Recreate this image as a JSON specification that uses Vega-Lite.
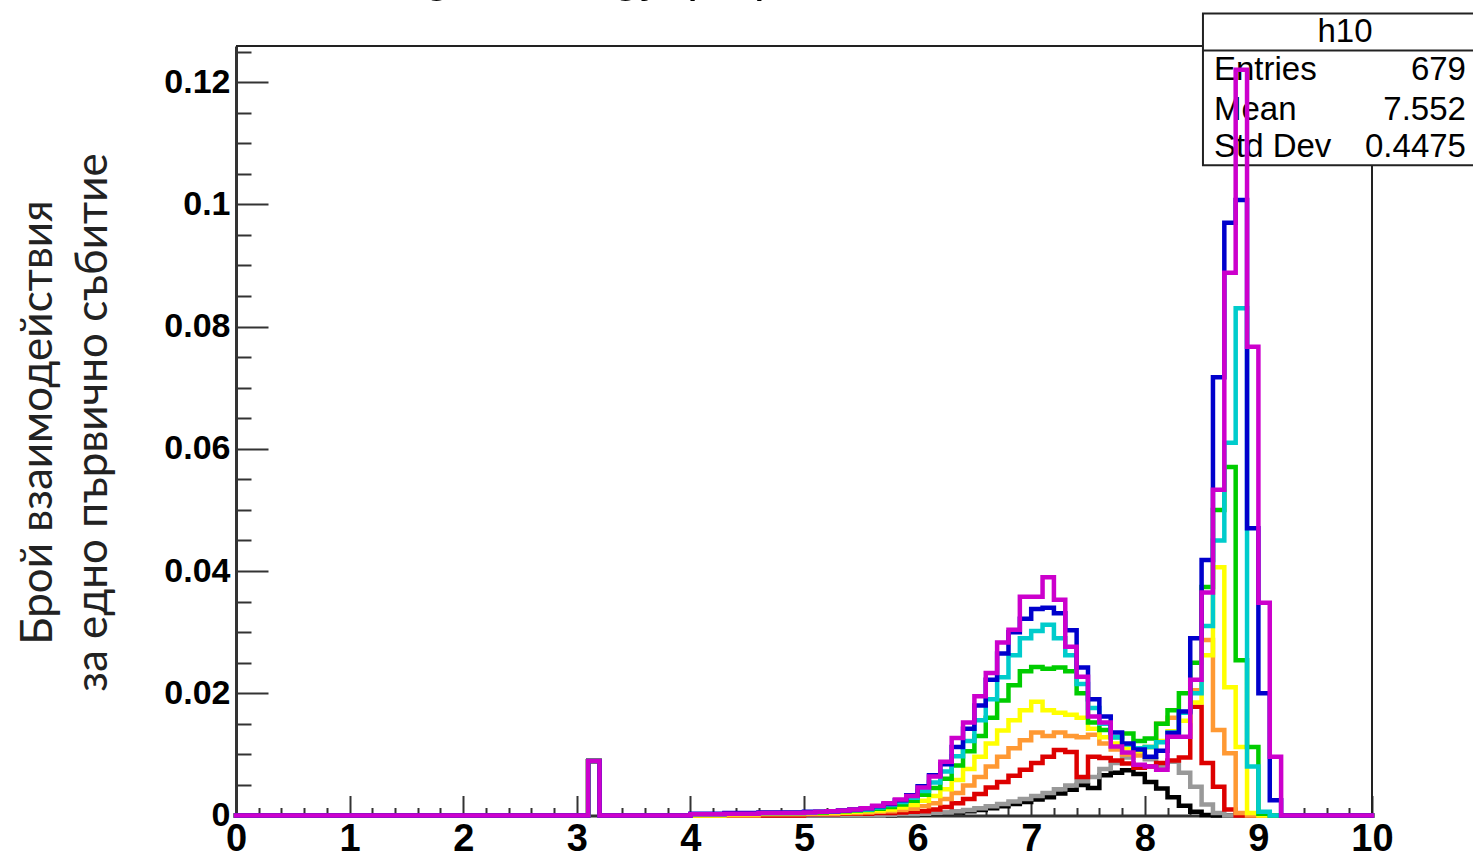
{
  "$schema": "https://vega.github.io/schema/vega-lite/v6.json",
  "width": 1136,
  "height": 769.5,
  "autosize": {"type": "none"},
  "padding": {"left": 236, "top": 46, "right": 101, "bottom": 39.5},
  "background": "white",
  "config": {
    "view": {"stroke": null},
    "axis": {
      "grid": false,
      "domainColor": "#333",
      "domainWidth": 3,
      "tickColor": "#333",
      "tickWidth": 2,
      "labelColor": "#000",
      "labelFont": "Liberation Sans",
      "labelFontWeight": "bold",
      "labelOverlap": false,
      "labelFlush": false,
      "labelBound": false
    },
    "text": {"font": "Liberation Sans", "fontSize": 33, "color": "#000"}
  },
  "datasets": {
    "stats": [{"title": "Light Energy (eV)", "hist": "h10", "entries": 679, "mean": 7.552, "stdDev": 0.4475}],
    "hist": [
      {"x": 0, "h2": 0, "h3": 0, "h4": 0, "h5": 0, "h6": 0, "h7": 0, "h8": 0, "h9": 0, "h10": 0},
      {"x": 3.1, "h2": 0.0089, "h3": 0.0089, "h4": 0.0089, "h5": 0.0089, "h6": 0.0089, "h7": 0.0089, "h8": 0.0089, "h9": 0.0089, "h10": 0.0089},
      {"x": 3.2, "h2": 0, "h3": 0, "h4": 0, "h5": 0, "h6": 0, "h7": 0, "h8": 0, "h9": 0, "h10": 0},
      {"x": 4.0, "h2": 0, "h3": 0, "h4": 0, "h5": 0, "h6": 0, "h7": 0.0002, "h8": 0.0002, "h9": 0.0003, "h10": 0.0002},
      {"x": 4.3, "h2": 0, "h3": 0, "h4": 0, "h5": 0, "h6": 0.0002, "h7": 0.0003, "h8": 0.0003, "h9": 0.0004, "h10": 0.0003},
      {"x": 4.6, "h2": 0, "h3": 0, "h4": 0, "h5": 0.0002, "h6": 0.0003, "h7": 0.0004, "h8": 0.0004, "h9": 0.0005, "h10": 0.0004},
      {"x": 5.0, "h2": 0, "h3": 0, "h4": 0.0002, "h5": 0.0003, "h6": 0.0004, "h7": 0.0005, "h8": 0.0005, "h9": 0.0006, "h10": 0.0005},
      {"x": 5.1, "h2": 0, "h3": 0, "h4": 0.0002, "h5": 0.0003, "h6": 0.0004, "h7": 0.0005, "h8": 0.0006, "h9": 0.0006, "h10": 0.0006},
      {"x": 5.2, "h2": 0, "h3": 0, "h4": 0.0002, "h5": 0.0003, "h6": 0.0005, "h7": 0.0006, "h8": 0.0006, "h9": 0.0007, "h10": 0.0007},
      {"x": 5.3, "h2": 0, "h3": 0, "h4": 0.0003, "h5": 0.0004, "h6": 0.0005, "h7": 0.0007, "h8": 0.0008, "h9": 0.0008, "h10": 0.0008},
      {"x": 5.4, "h2": 0, "h3": 0, "h4": 0.0003, "h5": 0.0004, "h6": 0.0006, "h7": 0.0008, "h8": 0.0009, "h9": 0.001, "h10": 0.001},
      {"x": 5.5, "h2": 0, "h3": 0, "h4": 0.0003, "h5": 0.0005, "h6": 0.0007, "h7": 0.0009, "h8": 0.001, "h9": 0.0012, "h10": 0.0012},
      {"x": 5.6, "h2": 0, "h3": 0, "h4": 0.0004, "h5": 0.0006, "h6": 0.0008, "h7": 0.0011, "h8": 0.0013, "h9": 0.0015, "h10": 0.0016},
      {"x": 5.7, "h2": 0, "h3": 0.0001, "h4": 0.0004, "h5": 0.0007, "h6": 0.001, "h7": 0.0014, "h8": 0.0017, "h9": 0.0019, "h10": 0.002},
      {"x": 5.8, "h2": 0.0001, "h3": 0.0002, "h4": 0.0005, "h5": 0.0009, "h6": 0.0013, "h7": 0.0018, "h8": 0.0022, "h9": 0.0025, "h10": 0.0026},
      {"x": 5.9, "h2": 0.0001, "h3": 0.0002, "h4": 0.0006, "h5": 0.0011, "h6": 0.0017, "h7": 0.0024, "h8": 0.0029, "h9": 0.0033, "h10": 0.0032},
      {"x": 6.0, "h2": 0.0002, "h3": 0.0003, "h4": 0.0007, "h5": 0.0015, "h6": 0.0024, "h7": 0.0034, "h8": 0.004, "h9": 0.0048, "h10": 0.0046},
      {"x": 6.1, "h2": 0.0003, "h3": 0.0004, "h4": 0.001, "h5": 0.002, "h6": 0.0032, "h7": 0.0045, "h8": 0.0054, "h9": 0.0066, "h10": 0.0064},
      {"x": 6.2, "h2": 0.0004, "h3": 0.0005, "h4": 0.0014, "h5": 0.0027, "h6": 0.0043, "h7": 0.006, "h8": 0.0072, "h9": 0.0084, "h10": 0.0088},
      {"x": 6.3, "h2": 0.0005, "h3": 0.0007, "h4": 0.002, "h5": 0.0037, "h6": 0.0058, "h7": 0.0082, "h8": 0.0097, "h9": 0.0112, "h10": 0.0127},
      {"x": 6.4, "h2": 0.0007, "h3": 0.0009, "h4": 0.0027, "h5": 0.0049, "h6": 0.0076, "h7": 0.0105, "h8": 0.0122, "h9": 0.0142, "h10": 0.0152},
      {"x": 6.5, "h2": 0.0009, "h3": 0.0012, "h4": 0.0035, "h5": 0.0063, "h6": 0.0096, "h7": 0.013, "h8": 0.0156, "h9": 0.018, "h10": 0.0195},
      {"x": 6.6, "h2": 0.0012, "h3": 0.0015, "h4": 0.0046, "h5": 0.008, "h6": 0.0118, "h7": 0.016, "h8": 0.019, "h9": 0.0222, "h10": 0.0233},
      {"x": 6.7, "h2": 0.0015, "h3": 0.0019, "h4": 0.0055, "h5": 0.0096, "h6": 0.0139, "h7": 0.0188, "h8": 0.0226, "h9": 0.0265, "h10": 0.0283},
      {"x": 6.8, "h2": 0.0019, "h3": 0.0023, "h4": 0.0065, "h5": 0.011, "h6": 0.0156, "h7": 0.0213, "h8": 0.0262, "h9": 0.03, "h10": 0.0304},
      {"x": 6.9, "h2": 0.0022, "h3": 0.0027, "h4": 0.0075, "h5": 0.0123, "h6": 0.0172, "h7": 0.0236, "h8": 0.029, "h9": 0.0322, "h10": 0.0358},
      {"x": 7.0, "h2": 0.0026, "h3": 0.0032, "h4": 0.0086, "h5": 0.0136, "h6": 0.0186, "h7": 0.0243, "h8": 0.0302, "h9": 0.0338, "h10": 0.0358},
      {"x": 7.1, "h2": 0.003, "h3": 0.0037, "h4": 0.0096, "h5": 0.013, "h6": 0.0172, "h7": 0.024, "h8": 0.0312, "h9": 0.034, "h10": 0.039},
      {"x": 7.2, "h2": 0.0036, "h3": 0.0043, "h4": 0.0107, "h5": 0.0136, "h6": 0.0168, "h7": 0.0242, "h8": 0.029, "h9": 0.0331, "h10": 0.0353},
      {"x": 7.3, "h2": 0.0042, "h3": 0.0049, "h4": 0.0104, "h5": 0.013, "h6": 0.0165, "h7": 0.0236, "h8": 0.0262, "h9": 0.0303, "h10": 0.0276},
      {"x": 7.4, "h2": 0.005, "h3": 0.0056, "h4": 0.0063, "h5": 0.0128, "h6": 0.016, "h7": 0.02, "h8": 0.0215, "h9": 0.0242, "h10": 0.0227},
      {"x": 7.5, "h2": 0.0045, "h3": 0.0063, "h4": 0.0096, "h5": 0.0132, "h6": 0.0142, "h7": 0.0152, "h8": 0.0176, "h9": 0.019, "h10": 0.0162},
      {"x": 7.6, "h2": 0.0066, "h3": 0.0076, "h4": 0.0094, "h5": 0.0118, "h6": 0.0128, "h7": 0.014, "h8": 0.015, "h9": 0.0162, "h10": 0.0152},
      {"x": 7.7, "h2": 0.007, "h3": 0.0086, "h4": 0.009, "h5": 0.0108, "h6": 0.0118, "h7": 0.0128, "h8": 0.0128, "h9": 0.0136, "h10": 0.0113},
      {"x": 7.8, "h2": 0.0074, "h3": 0.0095, "h4": 0.0085, "h5": 0.01, "h6": 0.011, "h7": 0.0134, "h8": 0.0116, "h9": 0.0118, "h10": 0.0103},
      {"x": 7.9, "h2": 0.0068, "h3": 0.01, "h4": 0.0078, "h5": 0.0098, "h6": 0.0105, "h7": 0.0122, "h8": 0.011, "h9": 0.0108, "h10": 0.0083},
      {"x": 8.0, "h2": 0.0055, "h3": 0.0092, "h4": 0.008, "h5": 0.0112, "h6": 0.0112, "h7": 0.0126, "h8": 0.0112, "h9": 0.0096, "h10": 0.008},
      {"x": 8.1, "h2": 0.0044, "h3": 0.008, "h4": 0.0086, "h5": 0.015, "h6": 0.0122, "h7": 0.015, "h8": 0.012, "h9": 0.0106, "h10": 0.0075},
      {"x": 8.2, "h2": 0.003, "h3": 0.0088, "h4": 0.009, "h5": 0.016, "h6": 0.0138, "h7": 0.0172, "h8": 0.0136, "h9": 0.0135, "h10": 0.0129},
      {"x": 8.3, "h2": 0.0016, "h3": 0.007, "h4": 0.0095, "h5": 0.0168, "h6": 0.0155, "h7": 0.02, "h8": 0.0168, "h9": 0.017, "h10": 0.0129},
      {"x": 8.4, "h2": 0.0006, "h3": 0.0047, "h4": 0.0178, "h5": 0.0205, "h6": 0.0185, "h7": 0.025, "h8": 0.02, "h9": 0.029, "h10": 0.0222},
      {"x": 8.5, "h2": 0.0001, "h3": 0.0018, "h4": 0.0086, "h5": 0.0287, "h6": 0.0262, "h7": 0.0374, "h8": 0.031, "h9": 0.0418, "h10": 0.0365},
      {"x": 8.6, "h2": 0, "h3": 0.0004, "h4": 0.0047, "h5": 0.014, "h6": 0.0406, "h7": 0.05, "h8": 0.045, "h9": 0.0717, "h10": 0.0533},
      {"x": 8.7, "h2": 0, "h3": 0, "h4": 0.001, "h5": 0.0102, "h6": 0.021, "h7": 0.057, "h8": 0.061, "h9": 0.097, "h10": 0.0888},
      {"x": 8.8, "h2": 0, "h3": 0, "h4": 0, "h5": 0.0004, "h6": 0.0112, "h7": 0.0254, "h8": 0.083, "h9": 0.1007, "h10": 0.122},
      {"x": 8.9, "h2": 0, "h3": 0, "h4": 0, "h5": 0, "h6": 0.0004, "h7": 0.0112, "h8": 0.008, "h9": 0.047, "h10": 0.0767},
      {"x": 9.0, "h2": 0, "h3": 0, "h4": 0, "h5": 0, "h6": 0, "h7": 0.0003, "h8": 0.0006, "h9": 0.02, "h10": 0.0348},
      {"x": 9.1, "h2": 0, "h3": 0, "h4": 0, "h5": 0, "h6": 0, "h7": 0, "h8": 0, "h9": 0.0025, "h10": 0.0096},
      {"x": 9.2, "h2": 0, "h3": 0, "h4": 0, "h5": 0, "h6": 0, "h7": 0, "h8": 0, "h9": 0, "h10": 0},
      {"x": 10, "h2": 0, "h3": 0, "h4": 0, "h5": 0, "h6": 0, "h7": 0, "h8": 0, "h9": 0, "h10": 0}
    ]
  },
  "data": {"name": "stats"},
  "layer": [
    {
      "mark": {"type": "rule", "color": "#222", "strokeWidth": 2},
      "encoding": {
        "x": {
          "datum": 0,
          "type": "quantitative",
          "scale": {"domain": [0, 10], "nice": false, "zero": false},
          "axis": {
            "title": null,
            "tickCount": 200,
            "values": [0, 0.2, 0.4, 0.6, 0.8, 1, 1.2, 1.4, 1.6, 1.8, 2, 2.2, 2.4, 2.6, 2.8, 3, 3.2, 3.4, 3.6, 3.8, 4, 4.2, 4.4, 4.6, 4.8, 5, 5.2, 5.4, 5.6, 5.8, 6, 6.2, 6.4, 6.6, 6.8, 7, 7.2, 7.4, 7.6, 7.8, 8, 8.2, 8.4, 8.6, 8.8, 9, 9.2, 9.4, 9.6, 9.8, 10],
            "labelExpr": "abs(datum.value - round(datum.value)) < 1e-6 ? format(datum.value, 'd') : ''",
            "labelOverlap": false,
            "labelFontSize": 38,
            "labelPadding": 25,
            "tickSize": {"condition": {"test": "abs(datum.value - round(datum.value)) < 1e-6", "value": -20}, "value": -8}
          }
        },
        "x2": {"datum": 10},
        "y": {
          "datum": 0.1259,
          "type": "quantitative",
          "scale": {"domain": [0, 0.1259], "nice": false, "zero": true},
          "axis": {
            "title": ["Брой взаимодействия", "за едно първично събитие"],
            "titleFont": "Lato",
            "titleFontSize": 44,
            "titleFontWeight": "normal",
            "titleColor": "#222",
            "titleAngle": 270,
            "titleAlign": "center",
            "titleBaseline": "middle",
            "titleLineHeight": 55,
            "titleX": -198,
            "titleY": 376,
            "tickCount": 200,
            "values": [0, 0.005, 0.01, 0.015, 0.02, 0.025, 0.03, 0.035, 0.04, 0.045, 0.05, 0.055, 0.06, 0.065, 0.07, 0.075, 0.08, 0.085, 0.09, 0.095, 0.1, 0.105, 0.11, 0.115, 0.12, 0.125],
            "labelExpr": "abs(datum.value * 50 - round(datum.value * 50)) < 1e-6 ? format(datum.value, '.2~f') : ''",
            "labelOverlap": false,
            "labelFontSize": 34,
            "labelPadding": 38,
            "tickSize": {"condition": {"test": "abs(datum.value * 50 - round(datum.value * 50)) < 1e-6", "value": -32}, "value": -15}
          }
        }
      }
    },
    {
      "mark": {"type": "rule", "color": "#222", "strokeWidth": 2},
      "encoding": {
        "x": {"datum": 10, "type": "quantitative"},
        "y": {"datum": 0, "type": "quantitative"},
        "y2": {"datum": 0.1259}
      }
    },
    {
      "mark": {"type": "text", "align": "left", "baseline": "alphabetic", "fontSize": 50},
      "encoding": {
        "x": {"datum": 1.303, "type": "quantitative"},
        "y": {"datum": 0.1349, "type": "quantitative"},
        "text": {"field": "title"}
      }
    },
    {
      "mark": {"type": "rect", "fill": "white", "stroke": "#222", "strokeWidth": 2},
      "encoding": {
        "x": {"datum": 8.512, "type": "quantitative"},
        "x2": {"datum": 11.2},
        "y": {"datum": 0.10638, "type": "quantitative"},
        "y2": {"datum": 0.13123}
      }
    },
    {
      "mark": {"type": "rule", "color": "#222", "strokeWidth": 2},
      "encoding": {
        "x": {"datum": 8.512, "type": "quantitative"},
        "x2": {"datum": 11.2},
        "y": {"datum": 0.12518, "type": "quantitative"}
      }
    },
    {
      "mark": {"type": "text", "align": "center", "baseline": "alphabetic"},
      "encoding": {
        "x": {"datum": 9.762, "type": "quantitative"},
        "y": {"datum": 0.12649, "type": "quantitative"},
        "text": {"field": "hist"}
      }
    },
    {
      "mark": {"type": "text", "align": "left", "baseline": "alphabetic", "text": "Entries"},
      "encoding": {
        "x": {"datum": 8.609, "type": "quantitative"},
        "y": {"datum": 0.12028, "type": "quantitative"}
      }
    },
    {
      "mark": {"type": "text", "align": "left", "baseline": "alphabetic", "text": "Mean"},
      "encoding": {
        "x": {"datum": 8.609, "type": "quantitative"},
        "y": {"datum": 0.11374, "type": "quantitative"}
      }
    },
    {
      "mark": {"type": "text", "align": "left", "baseline": "alphabetic", "text": "Std Dev"},
      "encoding": {
        "x": {"datum": 8.609, "type": "quantitative"},
        "y": {"datum": 0.10769, "type": "quantitative"}
      }
    },
    {
      "mark": {"type": "text", "align": "right", "baseline": "alphabetic"},
      "encoding": {
        "x": {"datum": 10.827, "type": "quantitative"},
        "y": {"datum": 0.12028, "type": "quantitative"},
        "text": {"field": "entries", "type": "quantitative", "format": "d"}
      }
    },
    {
      "mark": {"type": "text", "align": "right", "baseline": "alphabetic"},
      "encoding": {
        "x": {"datum": 10.827, "type": "quantitative"},
        "y": {"datum": 0.11374, "type": "quantitative"},
        "text": {"field": "mean", "type": "quantitative", "format": ".4~r"}
      }
    },
    {
      "mark": {"type": "text", "align": "right", "baseline": "alphabetic"},
      "encoding": {
        "x": {"datum": 10.827, "type": "quantitative"},
        "y": {"datum": 0.10769, "type": "quantitative"},
        "text": {"field": "stdDev", "type": "quantitative", "format": ".4~r"}
      }
    },
    {
      "data": {"name": "hist"},
      "transform": [
        {"fold": ["h2", "h3", "h4", "h5", "h6", "h7", "h8", "h9", "h10"], "as": ["series", "count"]}
      ],
      "mark": {"type": "line", "interpolate": "step-after", "strokeWidth": 4.5, "strokeJoin": "miter", "strokeCap": "square"},
      "encoding": {
        "x": {"field": "x", "type": "quantitative"},
        "y": {"field": "count", "type": "quantitative"},
        "color": {
          "field": "series",
          "type": "nominal",
          "scale": {
            "domain": ["h2", "h3", "h4", "h5", "h6", "h7", "h8", "h9", "h10"],
            "range": ["#000000", "#999999", "#dd0000", "#ff9933", "#ffff00", "#00cc00", "#00cccc", "#0000cc", "#cc00cc"]
          },
          "legend": null
        }
      }
    }
  ]
}
